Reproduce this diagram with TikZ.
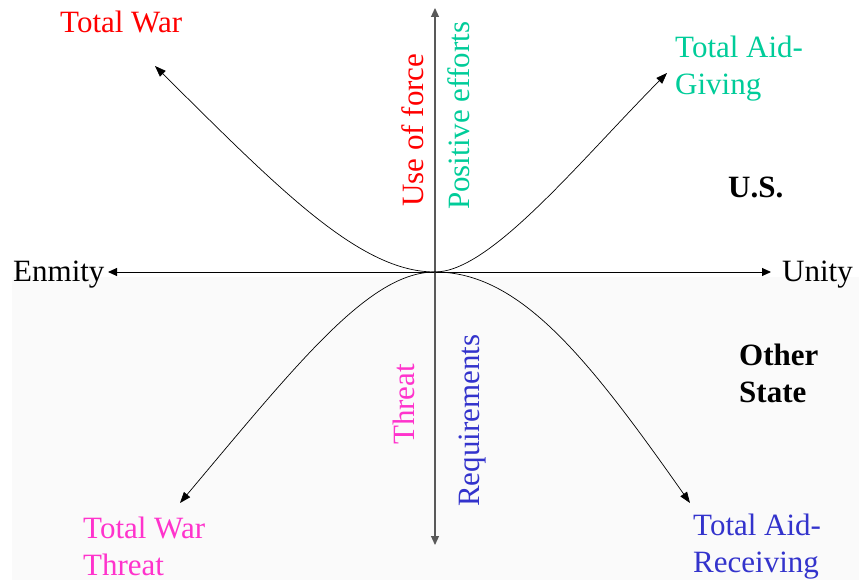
\documentclass[tikz,border=0pt]{standalone}
\usepackage{fontspec}
\setmainfont{Liberation Serif}
\usetikzlibrary{arrows.meta}

\definecolor{warred}{HTML}{FF0000}
\definecolor{aidgreen}{HTML}{00CC99}
\definecolor{threatpink}{HTML}{FF33CC}
\definecolor{reqblue}{HTML}{3333CC}

\tikzset{
  lbl/.style={inner sep=0pt, anchor=base west, align=left, font=\fontsize{31}{37}\selectfont},
  vlbl/.style={lbl, rotate=90},
  axisline/.style={-{Triangle[length=9pt,width=8pt]}, line width=0.9pt},
  curveline/.style={-{Triangle[length=11pt,width=8pt]}, line width=0.7pt}
}

\begin{document}
\begin{tikzpicture}[x=1pt,y=-1pt]
		\useasboundingbox (0,0) rectangle (859,580);

		% Faint shading of the lower half
		\fill[black!2] (12,277) rectangle (859,580);

		% Origin and free ends of the arrows
		\coordinate (O) at (435,272);
		\coordinate (enmityTip) at (108,272);
		\coordinate (unityTip) at (771,272);
		\coordinate (upTip) at (435,8);
		\coordinate (downTip) at (435,545);
		\coordinate (warTip) at (155,66);
		\coordinate (aidTip) at (667,73);
		\coordinate (threatTip) at (180,503);
		\coordinate (recvTip) at (690,503);

		% Axes
		\draw[axisline] (O) -- (enmityTip);
		\draw[axisline] (O) -- (unityTip);
		\draw[axisline, black!65, line width=1.2pt] (O) -- (upTip);
		\draw[axisline, black!65, line width=1.2pt] (O) -- (downTip);

		% Curves out of the origin
		\draw[curveline] (O) .. controls (360,272) and (280,190) .. (warTip);
		\draw[curveline] (O) .. controls (490,272) and (578,163) .. (aidTip);
		\draw[curveline] (O) .. controls (370,272) and (300,360) .. (threatTip);
		\draw[curveline] (O) .. controls (520,272) and (588,358) .. (recvTip);

		% Axis ends
		\node[lbl] (enmity) at (13,281) {Enmity};
		\node[lbl] (unity) at (782,281) {Unity};

		% Corner labels (two-line ones sit on their last baseline)
		\node[lbl, warred] (war) at (60,33) {Total War};
		\node[lbl, aidgreen] (aid) at (675,95) {Total Aid-\\Giving};
		\node[lbl, threatpink] (warthreat) at (83,575) {Total War\\Threat};
		\node[lbl, reqblue] (recv) at (693,572) {Total Aid-\\Receiving};

		% Sides
		\node[lbl, font=\fontsize{31}{37}\selectfont\bfseries] (us) at (728,197) {U.S.};
		\node[lbl, font=\fontsize{31}{37}\selectfont\bfseries] (other) at (739,402) {Other\\State};

		% Labels along the vertical axis
		\node[vlbl, warred] (force) at (423,207) {Use of force};
		\node[vlbl, aidgreen] (positive) at (469,210) {Positive efforts};
		\node[vlbl, threatpink] (threat) at (414,445) {Threat};
		\node[vlbl, reqblue] (req) at (479,507) {Requirements};
	\end{tikzpicture}
\end{document}
